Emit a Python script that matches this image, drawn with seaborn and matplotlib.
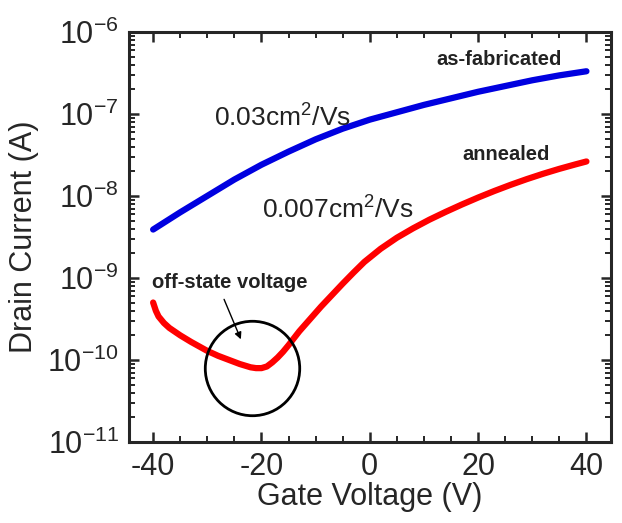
import numpy as np
import pandas as pd
import matplotlib
matplotlib.use("Agg")
import matplotlib.pyplot as plt
import seaborn as sns
from matplotlib.ticker import MultipleLocator, LogLocator, NullFormatter

# values (log10 of drain current in A)
blue_vg = [-40, -35, -30, -25, -20, -15, -10, -5, 0, 5, 10, 15, 20, 25, 30, 35, 40]
blue_log_id = [-8.41, -8.20, -8.00, -7.80, -7.62, -7.46, -7.31, -7.18, -7.07,
               -6.98, -6.89, -6.81, -6.73, -6.66, -6.59, -6.53, -6.48]

red_vg = [-40, -39.5, -39, -38, -37, -35, -33, -30, -28, -26, -24, -22, -21, -20,
          -19, -18, -17, -16, -15, -13, -11, -9, -7, -5, -3, -1, 2, 5, 8, 11,
          14, 17, 20, 23, 26, 29, 32, 35, 38, 40]
red_log_id = [-9.30, -9.40, -9.47, -9.55, -9.61, -9.70, -9.78, -9.89, -9.95,
              -10.00, -10.05, -10.09, -10.10, -10.10, -10.08, -10.03, -9.97,
              -9.90, -9.82, -9.65, -9.50, -9.35, -9.21, -9.07, -8.935, -8.805,
              -8.645, -8.51, -8.395, -8.29, -8.195, -8.105, -8.02, -7.94,
              -7.865, -7.795, -7.73, -7.67, -7.615, -7.58]

off_state_vg = -21.8
off_state_log_id = -10.10

sns.set_style("ticks")
plt.rcParams["font.family"] = ["Liberation Sans", "DejaVu Sans"]
plt.rcParams["mathtext.fontset"] = "custom"
plt.rcParams["mathtext.rm"] = "Liberation Sans"
plt.rcParams["mathtext.it"] = "Liberation Sans:italic"
plt.rcParams["mathtext.bf"] = "Liberation Sans:bold"
plt.rcParams["axes.unicode_minus"] = False
plt.rcParams["xtick.minor.visible"] = True
plt.rcParams["ytick.minor.visible"] = True

df = pd.concat([
    pd.DataFrame({"Vg": blue_vg, "Id": 10.0 ** np.array(blue_log_id), "state": "as-fabricated"}),
    pd.DataFrame({"Vg": red_vg, "Id": 10.0 ** np.array(red_log_id), "state": "annealed"}),
])

fig = plt.figure(figsize=(6.22, 5.23), dpi=100)
ax = fig.add_axes([0.207, 0.155, 0.775, 0.784])

sns.lineplot(data=df, x="Vg", y="Id", hue="state",
             palette={"as-fabricated": "#0000e0", "annealed": "#ff0000"},
             linewidth=4.5, legend=False, ax=ax, sort=False,
             solid_capstyle="round", solid_joinstyle="round")

ax.set_yscale("log")
ax.set_xlim(-44.5, 44.5)
ax.set_ylim(1e-11, 1e-6)

ax.xaxis.set_major_locator(MultipleLocator(20))
ax.xaxis.set_minor_locator(MultipleLocator(5))
ax.yaxis.set_major_locator(LogLocator(base=10, numticks=10))
ax.yaxis.set_minor_locator(LogLocator(base=10, subs=np.arange(2, 10), numticks=10))
ax.yaxis.set_minor_formatter(NullFormatter())

ax.tick_params(which="both", direction="in", top=True, right=True,
               labelsize=22, pad=7)
ax.tick_params(which="major", length=7, width=1.8)
ax.tick_params(which="minor", length=4.5, width=1.4)
for s in ax.spines.values():
    s.set_linewidth(2.2)

ax.set_xlabel("Gate Voltage (V)", fontsize=22, labelpad=0)
ax.set_ylabel("Drain Current (A)", fontsize=22, labelpad=6)

# off-state circle and annotations
ax.plot([off_state_vg], [10 ** off_state_log_id], marker="o", markersize=68,
        markerfacecolor="none", markeredgecolor="black", markeredgewidth=2.0)
ax.annotate("", xy=(-23.6, 10 ** -9.78), xytext=(-27.1, 10 ** -9.23),
            arrowprops=dict(arrowstyle="-|>", color="black", lw=1.0, mutation_scale=10))

ax.text(23.8, 10 ** -6.34, "as-fabricated", fontsize=14.5, fontweight="bold",
        color="#222222", ha="center", va="center")
ax.text(25.1, 10 ** -7.50, "annealed", fontsize=14.5, fontweight="bold",
        color="#222222", ha="center", va="center")
ax.text(-25.8, 10 ** -9.06, "off-state voltage", fontsize=14.5, fontweight="bold",
        color="#222222", ha="center", va="center")
ax.text(-16.1, 10 ** -7.05, "0.03cm$^{2}$/Vs", fontsize=19, color="#222222",
        ha="center", va="center")
ax.text(-6.0, 10 ** -8.17, "0.007cm$^{2}$/Vs", fontsize=19, color="#222222",
        ha="center", va="center")

fig.savefig("out.png", dpi=100)
